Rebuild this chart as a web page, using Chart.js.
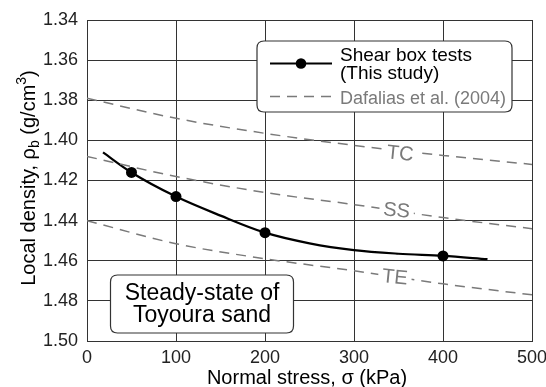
<!DOCTYPE html>
<html>
<head>
<meta charset="utf-8">
<script src="https://cdn.jsdelivr.net/npm/chart.js@4/dist/chart.umd.min.js"></script>
<style>
  html, body { margin: 0; padding: 0; background: #fff; }
  #wrap { width: 546px; height: 387px; }
</style>
</head>
<body>
<div id="wrap"><canvas id="densityChart" width="546" height="387"></canvas></div>
<script>
// Shear box tests (this study)
let testStress = [50, 100, 200, 400];
let testDensity = [1.416, 1.428, 1.446, 1.4576];

// fitted curve through the tests
let curveStress = [18, 50, 100, 150, 200, 250, 300, 350, 400, 450];
let curveDensity = [1.406, 1.416, 1.428, 1.4375, 1.446, 1.4513, 1.4547, 1.4565, 1.4576, 1.4592];

// Dafalias et al. (2004) lines
let dafStress = [0, 100, 200, 300, 400, 500];
let tcDensity = [1.379, 1.389, 1.3965, 1.4025, 1.4075, 1.412];
let ssDensity = [1.408, 1.418, 1.426, 1.432, 1.4385, 1.444];
let teDensity = [1.440, 1.4515, 1.459, 1.465, 1.4715, 1.477];

let xTicks = [0, 100, 200, 300, 400, 500];
let yTicks = [1.34, 1.36, 1.38, 1.40, 1.42, 1.44, 1.46, 1.48, 1.50];

const FONT = "Arial, 'Liberation Sans', sans-serif";
const GREY = "#7a7a7a";

function toPoints(xs, ys) {
    return xs.map((x, i) => ({ x: x, y: ys[i] }));
}

function dafDataset(ys) {
    return {
        data: toPoints(dafStress, ys),
        borderColor: GREY,
        borderWidth: 1.5,
        borderDash: [10, 7],
        pointRadius: 0,
        cubicInterpolationMode: "monotone",
        fill: false
    };
}

function roundBox(ctx, x, y, w, h, r) {
    ctx.beginPath();
    ctx.moveTo(x + r, y);
    ctx.lineTo(x + w - r, y);
    ctx.quadraticCurveTo(x + w, y, x + w, y + r);
    ctx.lineTo(x + w, y + h - r);
    ctx.quadraticCurveTo(x + w, y + h, x + w - r, y + h);
    ctx.lineTo(x + r, y + h);
    ctx.quadraticCurveTo(x, y + h, x, y + h - r);
    ctx.lineTo(x, y + r);
    ctx.quadraticCurveTo(x, y, x + r, y);
    ctx.closePath();
    ctx.fillStyle = "#fff";
    ctx.fill();
    ctx.strokeStyle = "#333";
    ctx.lineWidth = 1.2;
    ctx.stroke();
}

// line labels, legend, note box and axis titles
const overlayPlugin = {
    id: "overlay",
    afterDatasetsDraw(chart) {
        let ctx = chart.ctx;
        let xs = chart.scales.x, ys = chart.scales.y;
        let labels = [["TC", 352, 1.4064], ["SS", 348, 1.4347], ["TE", 346, 1.468]];
        ctx.save();
        ctx.font = "20px " + FONT;
        ctx.textAlign = "center";
        ctx.textBaseline = "middle";
        labels.forEach(l => {
            let px = xs.getPixelForValue(l[1]);
            let py = ys.getPixelForValue(l[2]);
            ctx.save();
            ctx.translate(px, py);
            ctx.rotate(0.1);
            let w = ctx.measureText(l[0]).width;
            ctx.fillStyle = "#fff";
            ctx.fillRect(-w / 2 - 4, -7, w + 8, 14);
            ctx.fillStyle = GREY;
            ctx.fillText(l[0], 0, 1);
            ctx.restore();
        });
        ctx.restore();
    },
    afterDraw(chart) {
        let ctx = chart.ctx;
        ctx.save();

        // legend
        roundBox(ctx, 257, 41, 255, 71, 7);
        ctx.strokeStyle = "#000";
        ctx.lineWidth = 2;
        ctx.beginPath();
        ctx.moveTo(270, 63.5);
        ctx.lineTo(332, 63.5);
        ctx.stroke();
        ctx.fillStyle = "#000";
        ctx.beginPath();
        ctx.arc(301, 63.5, 5.3, 0, Math.PI * 2);
        ctx.fill();
        ctx.strokeStyle = GREY;
        ctx.lineWidth = 1.5;
        ctx.setLineDash([10, 7]);
        ctx.beginPath();
        ctx.moveTo(270, 96.5);
        ctx.lineTo(332, 96.5);
        ctx.stroke();
        ctx.setLineDash([]);
        ctx.textAlign = "left";
        ctx.textBaseline = "alphabetic";
        ctx.font = "19px " + FONT;
        ctx.fillStyle = "#000";
        ctx.fillText("Shear box tests", 340, 61);
        ctx.fillText("(This study)", 340, 79);
        ctx.font = "18px " + FONT;
        ctx.fillStyle = GREY;
        ctx.fillText("Dafalias et al. (2004)", 340, 104);

        // note box
        roundBox(ctx, 110.5, 275, 183, 58, 7);
        ctx.font = "23px " + FONT;
        ctx.fillStyle = "#000";
        ctx.textAlign = "center";
        ctx.fillText("Steady-state of", 202, 300);
        ctx.fillText("Toyoura sand", 202, 322);

        // x title
        ctx.font = "20px " + FONT;
        ctx.fillText("Normal stress, \u03c3 (kPa)", 307, 384);

        // y title with sub/superscript
        ctx.translate(35, 178);
        ctx.rotate(-Math.PI / 2);
        let parts = [
            ["Local density, \u03c1", 20, 0],
            ["b", 14, 4],
            [" (g/cm", 20, 0],
            ["3", 14, -9],
            [")", 20, 0]
        ];
        let total = 0;
        parts.forEach(p => { ctx.font = p[1] + "px " + FONT; total += ctx.measureText(p[0]).width; });
        let cx = -total / 2;
        ctx.textAlign = "left";
        parts.forEach(p => {
            ctx.font = p[1] + "px " + FONT;
            ctx.fillText(p[0], cx, p[2]);
            cx += ctx.measureText(p[0]).width;
        });
        ctx.restore();
    }
};

let ctx = document.getElementById("densityChart").getContext("2d");
new Chart(ctx, {
    type: "line",
    data: {
        datasets: [
            dafDataset(tcDensity),
            dafDataset(ssDensity),
            dafDataset(teDensity),
            {
                data: toPoints(curveStress, curveDensity),
                borderColor: "#000",
                borderWidth: 2.2,
                pointRadius: 0,
                cubicInterpolationMode: "monotone",
                fill: false
            },
            {
                data: toPoints(testStress, testDensity),
                showLine: false,
                pointRadius: 5.5,
                pointBackgroundColor: "#000",
                pointBorderColor: "#000",
                pointBorderWidth: 0
            }
        ]
    },
    options: {
        responsive: false,
        animation: false,
        layout: { padding: { top: 20, right: 14, left: 0, bottom: 0 } },
        plugins: {
            legend: { display: false },
            tooltip: { enabled: false }
        },
        scales: {
            x: {
                type: "linear",
                min: 0,
                max: 500,
                afterBuildTicks: s => { s.ticks = xTicks.map(v => ({ value: v })); },
                afterFit: s => { s.height = 46; s.paddingLeft = 0; s.paddingRight = 0; },
                grid: { color: "#333", lineWidth: 1, drawTicks: false },
                border: { color: "#333", width: 1 },
                ticks: { color: "#222", font: { family: FONT, size: 18 }, padding: 6, maxRotation: 0 }
            },
            y: {
                type: "linear",
                reverse: true,
                min: 1.34,
                max: 1.50,
                afterBuildTicks: s => { s.ticks = yTicks.map(v => ({ value: v })); },
                afterFit: s => { s.width = 87; },
                grid: { color: "#333", lineWidth: 1, drawTicks: false },
                border: { color: "#333", width: 1 },
                ticks: {
                    color: "#222",
                    font: { family: FONT, size: 18 },
                    padding: 9,
                    callback: v => v.toFixed(2)
                }
            }
        }
    },
    plugins: [overlayPlugin]
});
</script>
</body>
</html>
